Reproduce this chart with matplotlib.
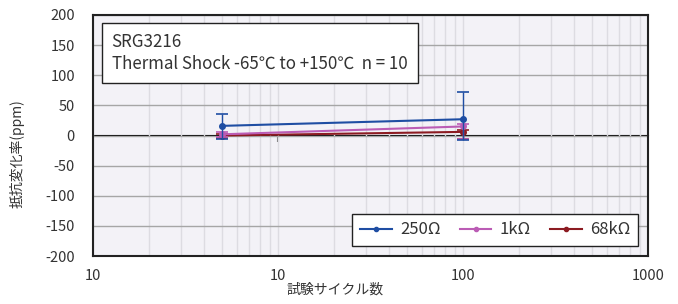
import matplotlib
matplotlib.use("Agg")
import matplotlib.pyplot as plt
from matplotlib.ticker import FixedLocator, FixedFormatter, LogLocator, NullFormatter, NullLocator

plt.rcParams['font.family'] = ['Noto Sans CJK JP', 'DejaVu Sans']
plt.rcParams['axes.unicode_minus'] = False

cycles = [5, 100]
series_names = ['250Ω', '1kΩ', '68kΩ']
r250 = [16, 27]
r250_lo = [21, 34]
r250_hi = [20, 46]
r1k = [2, 15]
r1k_lo = [5, 20]
r1k_hi = [3, 4]
r68k = [0, 6]
r68k_lo = [4, 12]
r68k_hi = [2, 3]
colors = ['#1f4ea3', '#bb5cb5', '#8c1b22']

xticks = [1, 10, 100, 1000]
xticklabels = ['10', '10', '100', '1000']
yticks = list(range(-200, 201, 50))

W, H = 678, 304
L, R, T, B = 93, 648, 15, 256
fig = plt.figure(figsize=(W/100, H/100), dpi=100)
ax = fig.add_axes([L/W, 1-B/H, (R-L)/W, (B-T)/H])
ax.set_facecolor('#f3f2f7')
ax.set_xscale('log')
ax.set_xlim(1, 1000)
ax.set_ylim(-200, 200)

ax.xaxis.set_major_locator(FixedLocator(xticks))
ax.xaxis.set_major_formatter(FixedFormatter(xticklabels))
ax.xaxis.set_minor_locator(LogLocator(base=10, subs=range(2, 10)))
ax.xaxis.set_minor_formatter(NullFormatter())
ax.set_yticks(yticks)
ax.tick_params(axis='both', which='both', length=0, labelsize=10.5, colors='#333333')
ax.tick_params(axis='y', pad=13)
ax.tick_params(axis='x', pad=9)

ax.grid(True, axis='x', which='both', color='#dddce2', lw=1.0)
ax.grid(True, axis='y', which='major', color='#a6a6a6', lw=1.0)
ax.set_axisbelow(True)
for s in ax.spines.values():
    s.set_color('#222222')
    s.set_linewidth(1.5)

sec = ax.secondary_xaxis(0.5)
sec.spines['bottom'].set_color('#707070')
sec.spines['bottom'].set_linewidth(1.4)
sec.xaxis.set_major_locator(FixedLocator([10]))
sec.xaxis.set_major_formatter(NullFormatter())
sec.xaxis.set_minor_locator(NullLocator())
sec.tick_params(axis='x', which='major', direction='in', length=5, width=1.5, color='#777777',
                labelbottom=False, labeltop=False)

data = [(r250, r250_lo, r250_hi), (r1k, r1k_lo, r1k_hi), (r68k, r68k_lo, r68k_hi)]
for i in [2, 1, 0]:
    y, lo, hi = data[i]
    ax.errorbar(cycles, y, yerr=[lo, hi], color=colors[i], lw=1.5, marker='o', ms=4,
                elinewidth=1.0, capsize=4, capthick=1.2, label=series_names[i], zorder=3 + (2 - i))

handles, labels = ax.get_legend_handles_labels()
order = [labels.index(n) for n in series_names]
leg = ax.legend([handles[k][0] for k in order], [labels[k] for k in order], ncol=3,
                loc='lower right', bbox_to_anchor=((638-L)/(R-L), (B-246)/(B-T)), fontsize=12,
                frameon=True, fancybox=False, edgecolor='#222222', framealpha=1,
                handlelength=1.9, columnspacing=1.15, handletextpad=0.5,
                borderpad=0.45, borderaxespad=0, markerscale=0.75)
leg.get_frame().set_linewidth(1.0)
for t in leg.get_texts():
    t.set_color('#333333')

ax.text((111.7-L)/(R-L), (B-33)/(B-T), 'SRG3216\nThermal Shock -65℃ to +150℃  n = 10', transform=ax.transAxes,
        fontsize=12.2, color='#333333', va='top', ha='left', linespacing=1.25,
        bbox=dict(boxstyle='square,pad=0.6', facecolor='white', edgecolor='#222222', lw=1.0))

ax.set_xlabel('試験サイクル数', fontsize=10, color='#333333')
ax.set_ylabel('抵抗変化率(ppm)', fontsize=10, color='#333333')
ax.xaxis.set_label_coords((335.5-L)/(R-L), (B-283)/(B-T))
ax.yaxis.set_label_coords((25-L)/(R-L), (B-154)/(B-T))

fig.savefig('out.png', dpi=100, facecolor='white')
